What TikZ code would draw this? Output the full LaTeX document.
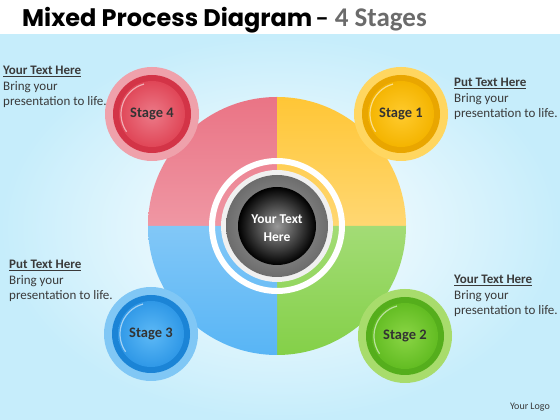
\documentclass[tikz,border=0pt]{standalone}
\usepackage{fontspec}
\setmainfont{Carlito}
\newfontfamily\headfont{Poppins}

\definecolor{skyblue}{HTML}{C6EDFB}
\definecolor{subgray}{HTML}{6B6B6B}
\definecolor{notegray}{HTML}{3A3A3A}
\definecolor{labelgray}{HTML}{333333}
% stage colours
\definecolor{haloRose}{HTML}{EFA1AB}
\definecolor{rimRose}{HTML}{D33447}
\definecolor{lightRose}{HTML}{EC7A88}
\definecolor{midRose}{HTML}{E04657}
\definecolor{quadRose}{HTML}{EA7485}
\definecolor{haloAmber}{HTML}{FFD660}
\definecolor{rimAmber}{HTML}{E9A600}
\definecolor{lightAmber}{HTML}{FFCB2E}
\definecolor{midAmber}{HTML}{F4B400}
\definecolor{quadAmber}{HTML}{FFC636}
\definecolor{haloAzure}{HTML}{80C7F5}
\definecolor{rimAzure}{HTML}{1B84D6}
\definecolor{lightAzure}{HTML}{5DB9F6}
\definecolor{midAzure}{HTML}{2F98E7}
\definecolor{quadAzure}{HTML}{58B5F5}
\definecolor{haloLime}{HTML}{A8DC6C}
\definecolor{rimLime}{HTML}{55AE1C}
\definecolor{lightLime}{HTML}{8AD545}
\definecolor{midLime}{HTML}{62BC22}
\definecolor{quadLime}{HTML}{84D048}

\begin{document}
\begin{tikzpicture}[x=1pt,y=1pt]
		\tikzstyle{every node}=[font=\fontsize{13}{15.5}\selectfont]
		\tikzstyle{note}=[align=left,anchor=north west,inner sep=0pt,text=notegray]
		\tikzstyle{stage label}=[font=\fontsize{14.5}{16}\selectfont\bfseries,text=labelgray]
		
		\useasboundingbox (0,0) rectangle (560,420);
		\fill[white] (0,0) rectangle (560,420);
		\shade[inner color=white,outer color=skyblue] (0,0) rectangle (560,385);
		
		\node[anchor=base west,inner sep=0pt] (title) at (22,393)
		{{\headfont\bfseries\fontsize{24}{26}\selectfont Mixed Process Diagram}
			{\fontsize{27}{28}\selectfont\bfseries -- {\color{subgray}4 Stages}}};
		
		\coordinate (hub) at (277,194);
		\shade[top color=quadRose,bottom color=quadRose!75!white] (hub) -- ++(180:129) arc (180:90:129) -- cycle;
		\shade[top color=quadAmber,bottom color=quadAmber!70!white] (hub) -- ++(90:129) arc (90:0:129) -- cycle;
		\shade[top color=quadLime!75!white,bottom color=quadLime] (hub) -- ++(0:129) arc (0:-90:129) -- cycle;
		\shade[top color=quadAzure!75!white,bottom color=quadAzure] (hub) -- ++(-90:129) arc (-90:-180:129) -- cycle;
		
		\draw[white,line width=6pt] (hub) circle (65);
		\fill[gray!12] (hub) circle (56);
		\shade[inner color=gray!70,outer color=gray!85!black] (hub) circle (51);
		\shade[inner color=gray!80,outer color=black] (hub) circle (39);
		\node[white,align=center,font=\fontsize{13.5}{17.5}\selectfont\bfseries] (core) at ([yshift=-2]hub) {Your Text\\Here};
		
		\foreach \name/\px/\py/\tone/\num in {s4/152/306/Rose/4, s1/401/306/Amber/1, s3/151/86/Azure/3, s2/405/84/Lime/2}
		{
			\fill[halo\tone] (\px,\py) circle (47);
			\fill[rim\tone] (\px,\py) circle (39);
			\shade[inner color=light\tone,outer color=mid\tone] (\px,\py) circle (33);
			\draw[white,opacity=.55,line width=1.2pt] (\px,\py) ++(105:31) arc (105:215:31);
			\node[stage label] (\name) at (\px,\py) {Stage \num};
		}
		
		\node[note] (note4) at (3,354) {\underline{\textbf{Your Text Here}}\\Bring your\\presentation to life.};
		\node[note] (note1) at (454,342) {\underline{\textbf{Put Text Here}}\\Bring your\\presentation to life.};
		\node[note] (note3) at (9,160) {\underline{\textbf{Put Text Here}}\\Bring your\\presentation to life.};
		\node[note] (note2) at (454,145) {\underline{\textbf{Your Text Here}}\\Bring your\\presentation to life.};
		
		\node[text=notegray,font=\fontsize{10}{12}\selectfont] (logo) at (530,13) {Your Logo};
\end{tikzpicture}
\end{document}
